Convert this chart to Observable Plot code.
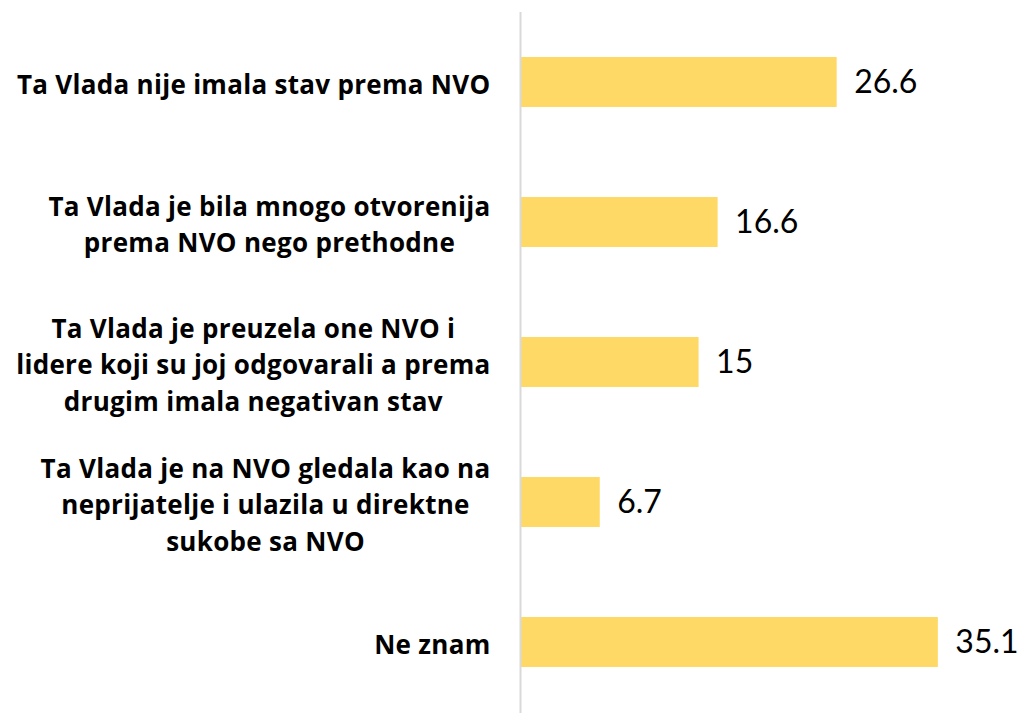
<!DOCTYPE html>
<html>
<head>
<meta charset="utf-8">
<script src="https://cdn.jsdelivr.net/npm/d3@7"></script>
<script src="https://cdn.jsdelivr.net/npm/@observablehq/plot@0.6"></script>
<style>
  html, body { margin: 0; padding: 0; background: #fff; }
  #chart svg { display: block; }
</style>
</head>
<body>
<div id="chart"></div>
<script>
const categories = [
  "Ta Vlada nije imala stav prema NVO",
  "Ta Vlada je bila mnogo otvorenija\nprema NVO nego prethodne",
  "Ta Vlada je preuzela one NVO i\nlidere koji su joj odgovarali a prema\ndrugim imala negativan stav",
  "Ta Vlada je na NVO gledala kao na\nneprijatelje i ulazila u direktne\nsukobe sa NVO",
  "Ne znam"
];
const values = [26.6, 16.6, 15, 6.7, 35.1];
const valueLabels = ["26.6", "16.6", "15", "6.7", "35.1"];

const data = categories.map((c, i) => ({category: c, value: values[i], label: valueLabels[i]}));

const chart = Plot.plot({
  width: 1020,
  height: 713,
  marginLeft: 520,
  marginRight: 0,
  marginTop: 12,
  marginBottom: 0,
  style: {fontFamily: "Lato, 'Open Sans', sans-serif", color: "#000", background: "#fff"},
  x: {domain: [0, 42], axis: null},
  y: {domain: categories, paddingInner: 0.64, paddingOuter: 0.32, label: null},
  marks: [
    Plot.barX(data, {x: "value", y: "category", fill: "#FFD966"}),
    Plot.ruleX([0], {stroke: "#d9d9d9", strokeWidth: 2}),
    Plot.text(data, {x: "value", y: "category", text: "label", textAnchor: "start", dx: 17, fontSize: 32, fill: "#000"}),
    Plot.axisY({tickSize: 0, tickPadding: 30, fontSize: 26, fontWeight: "bold", lineHeight: 1.4, textAnchor: "end", fill: "#000", label: null})
  ]
});

d3.select(chart).selectAll('g[aria-label="y-axis tick label"]').style("font-family", "'Open Sans', sans-serif").style("letter-spacing", "0.3px");

document.getElementById("chart").appendChild(chart);

// center the lines of multi-line tick labels within their right-aligned block
d3.select(chart).selectAll('g[aria-label="y-axis tick label"] text').each(function() {
  const tspans = this.querySelectorAll("tspan");
  if (tspans.length < 2) return;
  let W = 0;
  tspans.forEach(t => { W = Math.max(W, t.getComputedTextLength()); });
  this.setAttribute("text-anchor", "middle");
  tspans.forEach(t => t.setAttribute("x", -W / 2));
});
</script>
</body>
</html>
